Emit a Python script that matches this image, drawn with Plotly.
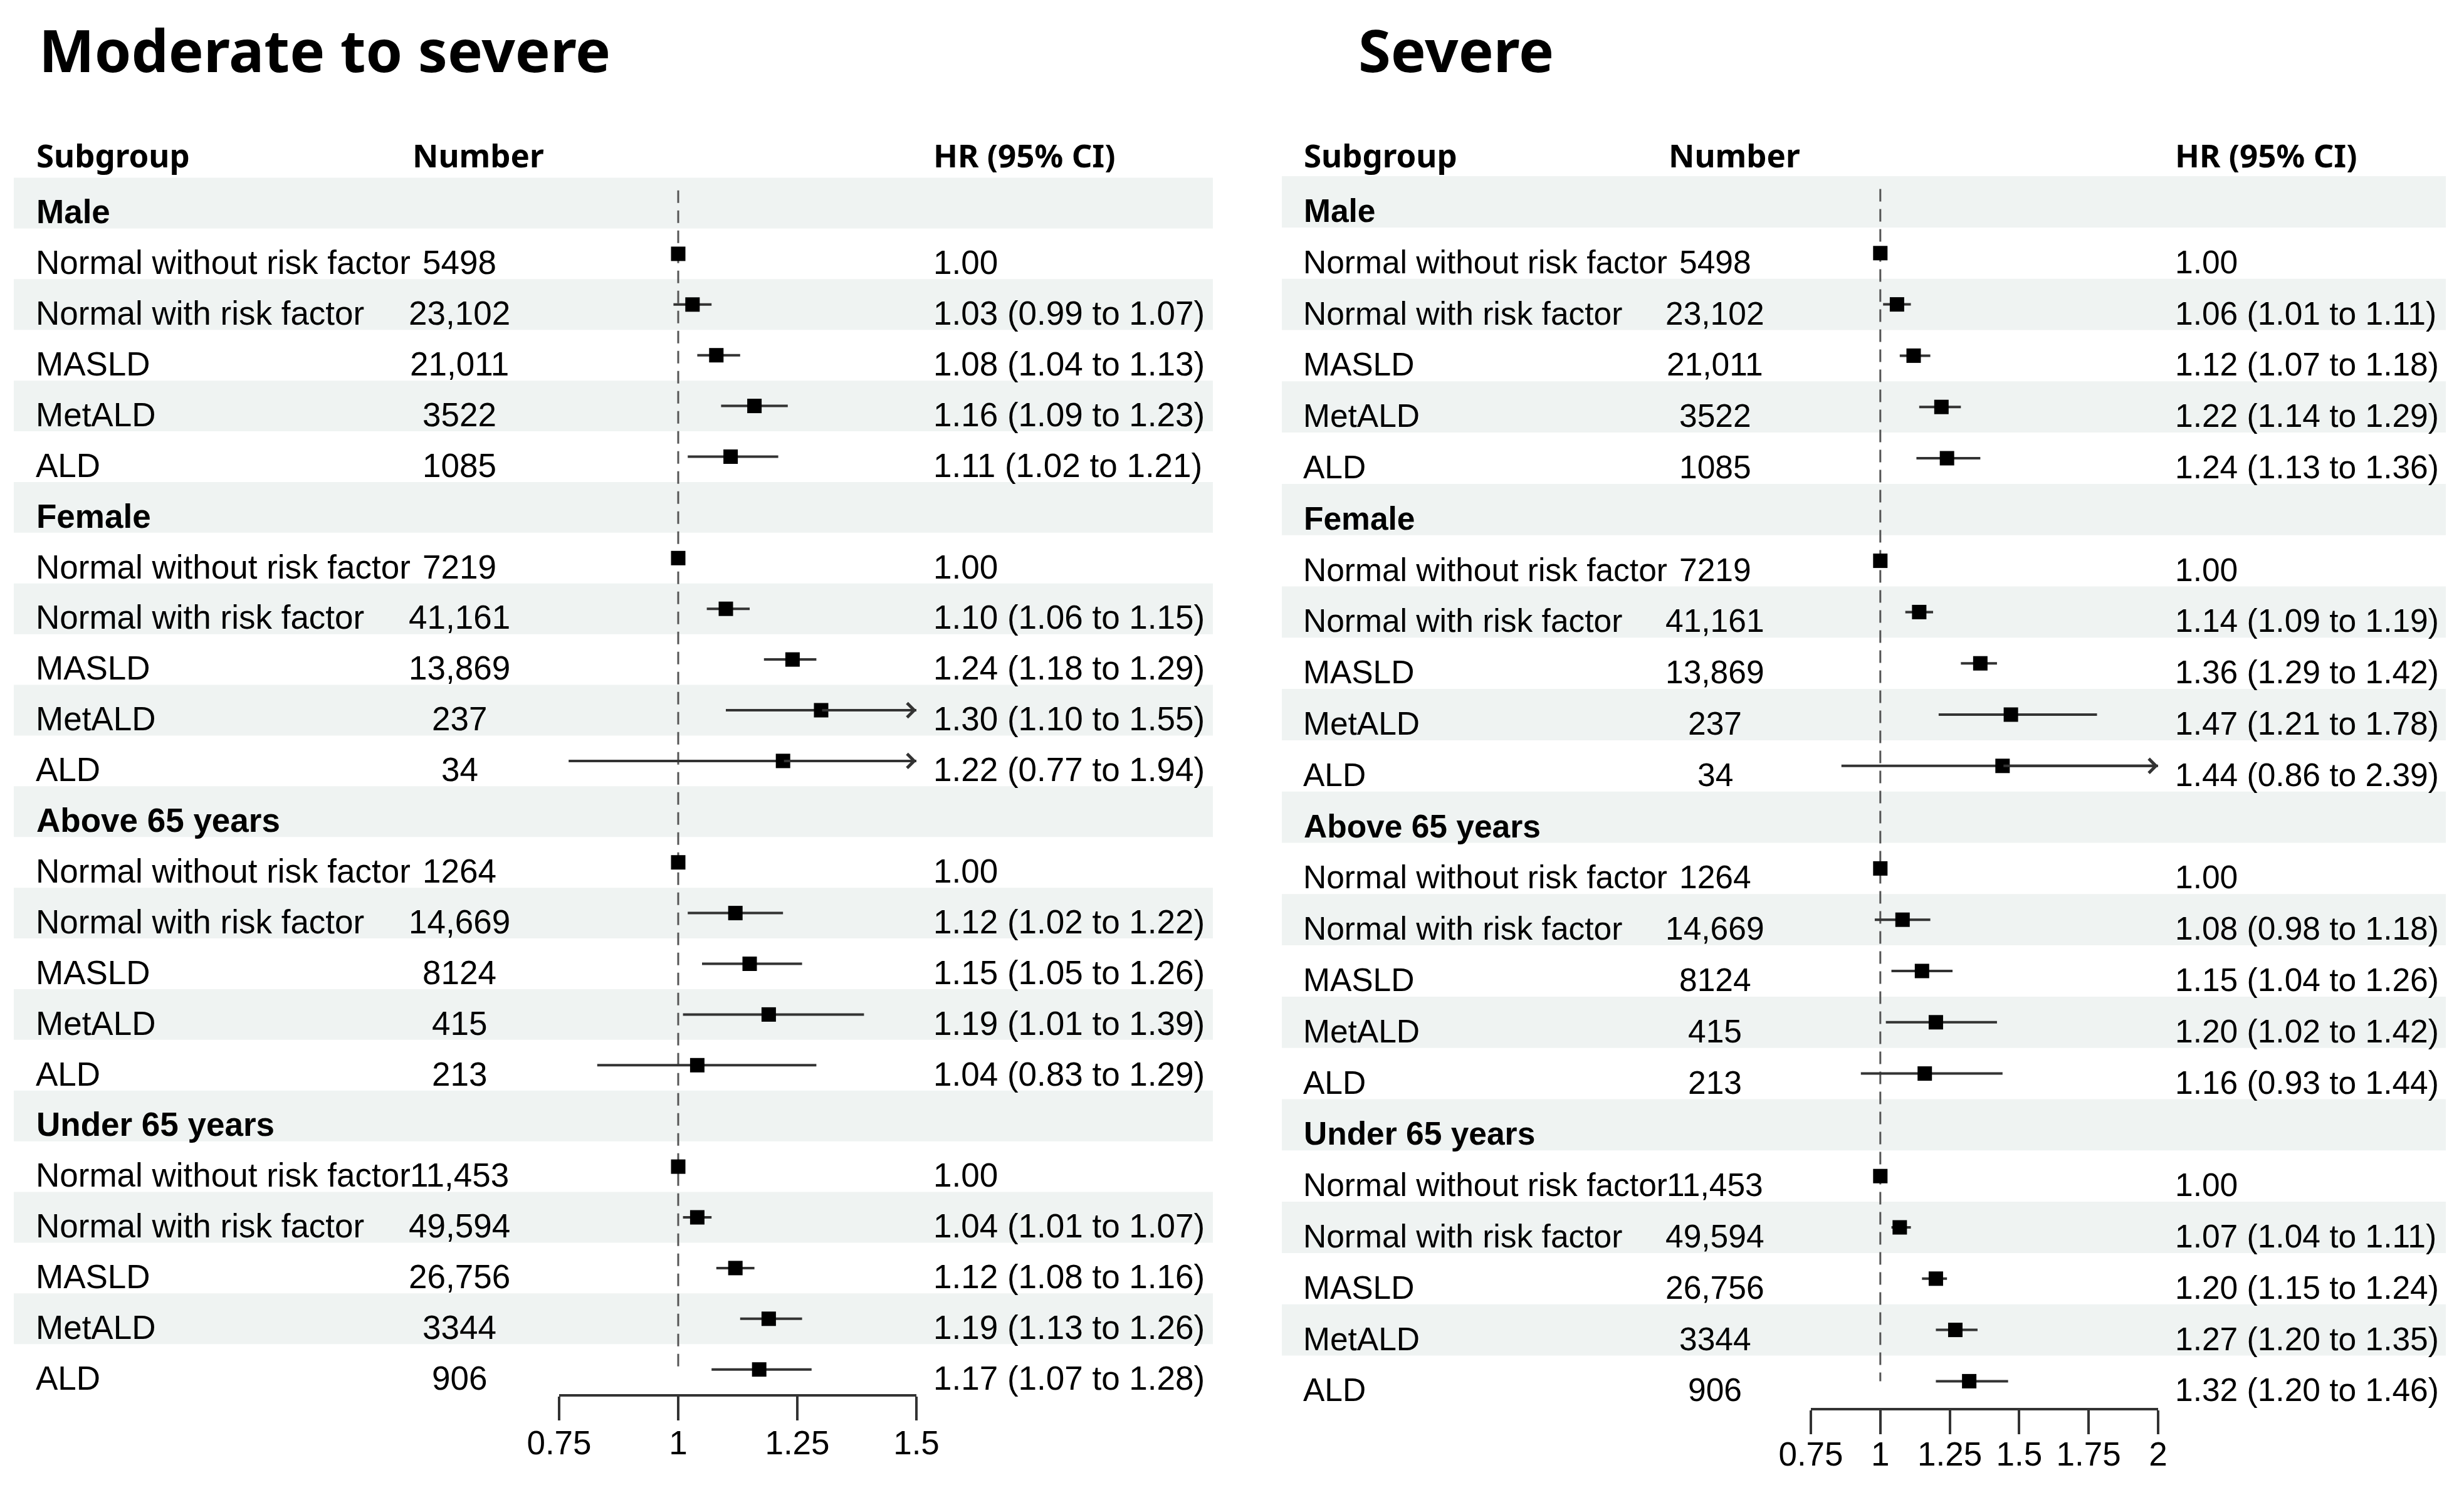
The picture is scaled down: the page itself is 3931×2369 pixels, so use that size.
import plotly.graph_objects as go

W, H = 3931, 2369

# ---------------- data ----------------
groups = ["Male", "Female", "Above 65 years", "Under 65 years"]
categories = ["Normal without risk factor", "Normal with risk factor", "MASLD", "MetALD", "ALD"]
numbers = [
    ["5498", "23,102", "21,011", "3522", "1085"],
    ["7219", "41,161", "13,869", "237", "34"],
    ["1264", "14,669", "8124", "415", "213"],
    ["11,453", "49,594", "26,756", "3344", "906"],
]

mod_hr = [[1.00, 1.03, 1.08, 1.16, 1.11],
          [1.00, 1.10, 1.24, 1.30, 1.22],
          [1.00, 1.12, 1.15, 1.19, 1.04],
          [1.00, 1.04, 1.12, 1.19, 1.17]]
mod_lo = [[None, 0.99, 1.04, 1.09, 1.02],
          [None, 1.06, 1.18, 1.10, 0.77],
          [None, 1.02, 1.05, 1.01, 0.83],
          [None, 1.01, 1.08, 1.13, 1.07]]
mod_hi = [[None, 1.07, 1.13, 1.23, 1.21],
          [None, 1.15, 1.29, 1.55, 1.94],
          [None, 1.22, 1.26, 1.39, 1.29],
          [None, 1.07, 1.16, 1.26, 1.28]]

sev_hr = [[1.00, 1.06, 1.12, 1.22, 1.24],
          [1.00, 1.14, 1.36, 1.47, 1.44],
          [1.00, 1.08, 1.15, 1.20, 1.16],
          [1.00, 1.07, 1.20, 1.27, 1.32]]
sev_lo = [[None, 1.01, 1.07, 1.14, 1.13],
          [None, 1.09, 1.29, 1.21, 0.86],
          [None, 0.98, 1.04, 1.02, 0.93],
          [None, 1.04, 1.15, 1.20, 1.20]]
sev_hi = [[None, 1.11, 1.18, 1.29, 1.36],
          [None, 1.19, 1.42, 1.78, 2.39],
          [None, 1.18, 1.26, 1.42, 1.44],
          [None, 1.11, 1.24, 1.35, 1.46]]

mod_ticks = [0.75, 1, 1.25, 1.5]
mod_ticklabels = ["0.75", "1", "1.25", "1.5"]
sev_ticks = [0.75, 1, 1.25, 1.5, 1.75, 2]
sev_ticklabels = ["0.75", "1", "1.25", "1.5", "1.75", "2"]

titles = ["Moderate to severe", "Severe"]
headers = ["Subgroup", "Number", "HR (95% CI)"]

# ---------------- layout (pixels) ----------------
panels = [
    dict(title=titles[0], hr=mod_hr, lo=mod_lo, hi=mod_hi, ticks=mod_ticks, ticklabels=mod_ticklabels,
         xrange=(0.75, 1.5), ax_px=(892, 1462), ax_y=2226, row0=324, step=80.9, fs=53, tls=-10,
         band=(22, 1935), title_x=60, sub_x=56, num_x=733, numh_x=656, hr_x=1487,
         xa="xaxis", ya="yaxis", xr="x", yr="y"),
    dict(title=titles[1], hr=sev_hr, lo=sev_lo, hi=sev_hi, ticks=sev_ticks, ticklabels=sev_ticklabels,
         xrange=(0.75, 2.0), ax_px=(2889, 3443), ax_y=2248, row0=322, step=81.8, fs=51.5, tls=-14,
         band=(2045, 3902), title_x=2165, sub_x=2078, num_x=2736, numh_x=2660, hr_x=3468,
         xa="xaxis2", ya="yaxis2", xr="x2", yr="y2"),
]

BODY = "Liberation Sans, Arial, sans-serif"
HEAD = "Noto Sans, Liberation Sans, sans-serif"
TXT_OFF = 0.17   # text sits slightly below row centre
BAND = "#eff3f2"
LINE = "#333333"

fig = go.Figure()
shapes, annots = [], []
layout_axes = {}

for p in panels:
    xr, yr = p["xr"], p["yr"]
    c0, s = p["row0"], p["step"]
    FS = p["fs"]
    layout_axes[p["ya"]] = dict(domain=[0, 1], range=[(H - c0) / s, -c0 / s], visible=False,
                                anchor="free", position=0, fixedrange=True)
    layout_axes[p["xa"]] = dict(domain=[p["ax_px"][0] / W, p["ax_px"][1] / W], range=list(p["xrange"]),
                                anchor="free", position=1 - p["ax_y"] / H,
                                tickvals=p["ticks"], ticktext=p["ticklabels"],
                                ticks="outside", ticklen=38, tickwidth=4, tickcolor=LINE,
                                ticklabelstandoff=p["tls"],
                                showline=True, linewidth=4, linecolor=LINE,
                                showgrid=False, zeroline=False, fixedrange=True,
                                tickfont=dict(family=BODY, size=53, color="black"))

    # title
    annots.append(dict(text="<b>" + p["title"] + "</b>", xref="paper", yref="paper",
                       x=p["title_x"] / W, y=1 - 79 / H, xanchor="left", yanchor="middle",
                       showarrow=False, font=dict(family=HEAD, size=94, color="black")))
    # headers
    for txt, hx in zip(headers, [p["sub_x"], p["numh_x"], p["hr_x"]]):
        annots.append(dict(text="<b>" + txt + "</b>", xref="paper", yref="paper",
                           x=hx / W, y=1 - 247 / H, xanchor="left", yanchor="middle",
                           showarrow=False, font=dict(family=HEAD, size=51, color="black")))

    row = 0
    ci_x, ci_y, mk_x, mk_y = [], [], [], []
    for g, gname in enumerate(groups):
        # group header row
        if row % 2 == 0:
            shapes.append(dict(type="rect", xref="paper", yref=yr, x0=p["band"][0] / W, x1=p["band"][1] / W,
                               y0=row - 0.5, y1=row + 0.5, fillcolor=BAND, line=dict(width=0), layer="below"))
        annots.append(dict(text="<b>" + gname + "</b>", xref="paper", yref=yr, x=p["sub_x"] / W,
                           y=row + TXT_OFF, xanchor="left", yanchor="middle", showarrow=False,
                           font=dict(family=BODY, size=FS, color="black")))
        row += 1
        for k, cat in enumerate(categories):
            if row % 2 == 0:
                shapes.append(dict(type="rect", xref="paper", yref=yr, x0=p["band"][0] / W, x1=p["band"][1] / W,
                                   y0=row - 0.5, y1=row + 0.5, fillcolor=BAND, line=dict(width=0), layer="below"))
            hr = p["hr"][g][k]
            lo = p["lo"][g][k]
            hi = p["hi"][g][k]
            annots.append(dict(text=cat, xref="paper", yref=yr, x=p["sub_x"] / W, y=row + TXT_OFF,
                               xanchor="left", yanchor="middle", showarrow=False, borderpad=0,
                               font=dict(family=BODY, size=FS, color="black")))
            annots.append(dict(text=numbers[g][k], xref="paper", yref=yr, x=p["num_x"] / W, y=row + TXT_OFF,
                               xanchor="center", yanchor="middle", showarrow=False, borderpad=0,
                               font=dict(family=BODY, size=FS, color="black")))
            hr_txt = f"{hr:.2f}" if lo is None else f"{hr:.2f} ({lo:.2f} to {hi:.2f})"
            annots.append(dict(text=hr_txt, xref="paper", yref=yr, x=p["hr_x"] / W, y=row + TXT_OFF,
                               xanchor="left", yanchor="middle", showarrow=False,
                               font=dict(family=BODY, size=FS, color="black")))
            mk_x.append(hr)
            mk_y.append(row)
            if lo is not None:
                xmax = p["xrange"][1]
                ci_x += [lo, min(hi, xmax), None]
                ci_y += [row, row, None]
                if hi > xmax:
                    annots.append(dict(text="", xref=xr, yref=yr, x=xmax, y=row, axref=xr, ayref=yr,
                                       ax=hr, ay=row, showarrow=True, arrowhead=4, arrowsize=1.1,
                                       arrowwidth=4, arrowcolor=LINE, standoff=0))
            row += 1

    # reference line
    shapes.append(dict(type="line", xref=xr, yref=yr, x0=1, x1=1, y0=-0.25, y1=row - 1,
                       line=dict(color="#555555", width=3, dash="20px,12px"), layer="below"))

    fig.add_trace(go.Scatter(x=ci_x, y=ci_y, mode="lines", xaxis=xr, yaxis=yr,
                             line=dict(color=LINE, width=4), hoverinfo="skip", showlegend=False))
    fig.add_trace(go.Scatter(x=mk_x, y=mk_y, mode="markers", xaxis=xr, yaxis=yr,
                             marker=dict(symbol="square", size=23, color="black", line=dict(width=0)),
                             cliponaxis=False, showlegend=False))

fig.update_layout(width=W, height=H, autosize=False,
                  margin=dict(l=0, r=0, t=0, b=0, pad=0, autoexpand=False),
                  paper_bgcolor="white", plot_bgcolor="rgba(0,0,0,0)",
                  shapes=shapes, annotations=annots, showlegend=False,
                  **layout_axes)

fig.write_html("out.html", config={"displayModeBar": False},
               post_script="document.body.style.margin='0px';")
